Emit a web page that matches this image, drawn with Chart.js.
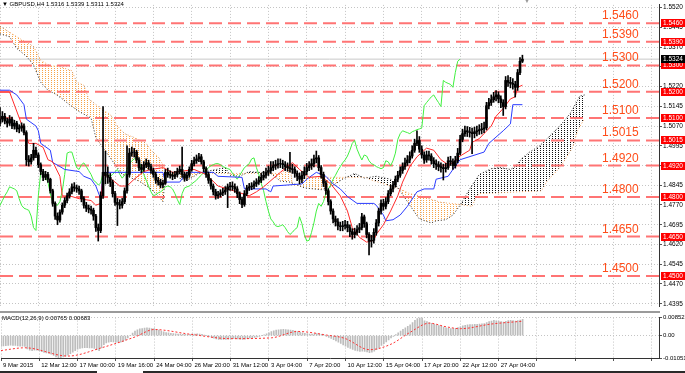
<!DOCTYPE html>
<html lang="en">
<head>
  <meta charset="UTF-8">
  <title>GBPUSD,H4 Ichimoku</title>
  <script src="https://unpkg.com/chart.js@4.4.0/dist/chart.umd.js"></script>
  <style>
    body { margin: 0; background: #fff; font-family: "Liberation Sans", Arial, sans-serif; }
    #wrap { position: relative; width: 685px; height: 373px; overflow: hidden; background: #fff; }
    canvas { position: absolute; left: 0; }
    #main { top: 0; }
    #macd { top: 313px; }
    .sep { position: absolute; left: 0; top: 311px; width: 660px; height: 2px; background: #9a9a9a; }
    .title { position: absolute; left: 2px; top: 1px; font-size: 6px; color: #000; white-space: nowrap; }
    .macdTitle { position: absolute; left: 2px; top: 315px; font-size: 6px; color: #000; white-space: nowrap; }
    .shift { position: absolute; left: 524px; top: -2px; font-size: 6px; color: #999; }
    .bottom { position: absolute; left: 0; top: 371px; width: 685px; height: 2px; background: #2a2a2a; }
    .tab { position: absolute; left: 97px; top: 371px; width: 46px; height: 2px; background: #fff; }
  </style>
</head>
<body>
<div id="wrap">
  <canvas id="main" width="685" height="311"></canvas>
  <div class="sep"></div>
  <canvas id="macd" width="685" height="60"></canvas>
  <div class="title">▼ GBPUSD,H4 1.5316 1.5339 1.5311 1.5324</div>
  <div class="shift">▼</div>
  <div class="macdTitle">MACD(12,26,9) 0.00765 0.00683</div>
  <div class="bottom"></div>
  <div class="tab"></div>
</div>

<script>
  // H4 candles, bar 0 = 9 Mar 2015 00:00
  const firstOpen = 1.5080;
  const closes = [1.5096,1.5107,1.5089,1.5081,1.5096,1.5070,1.5081,1.5059,1.5063,1.5070,
    1.5045,1.4942,1.4934,1.4949,1.4978,1.4960,1.4923,1.4897,1.4875,1.4886,
    1.4868,1.4824,1.4776,1.4728,1.4713,1.4743,1.4769,1.4787,1.4805,1.4820,
    1.4839,1.4835,1.4831,1.4824,1.4794,1.4769,1.4758,1.4754,1.4750,1.4728,
    1.4684,1.4673,1.4805,1.4894,1.4883,1.4875,1.4857,1.4813,1.4780,1.4772,
    1.4769,1.4783,1.4824,1.4886,1.4967,1.4971,1.4971,1.4941,1.4912,1.4905,
    1.4923,1.4930,1.4916,1.4901,1.4886,1.4864,1.4857,1.4846,1.4853,1.4894,
    1.4886,1.4883,1.4879,1.4886,1.4897,1.4905,1.4886,1.4872,1.4883,1.4905,
    1.4927,1.4938,1.4945,1.4953,1.4934,1.4908,1.4886,1.4864,1.4842,1.4820,
    1.4805,1.4809,1.4816,1.4820,1.4827,1.4839,1.4842,1.4839,1.4831,1.4813,
    1.4791,1.4772,1.4813,1.4835,1.4839,1.4842,1.4850,1.4857,1.4864,1.4875,
    1.4883,1.4894,1.4901,1.4912,1.4919,1.4923,1.4927,1.4927,1.4923,1.4916,
    1.4912,1.4908,1.4905,1.4890,1.4879,1.4868,1.4883,1.4897,1.4912,1.4919,
    1.4927,1.4945,1.4949,1.4912,1.4886,1.4853,1.4824,1.4783,1.4747,1.4717,
    1.4706,1.4691,1.4688,1.4691,1.4695,1.4684,1.4669,1.4658,1.4666,1.4677,
    1.4684,1.4725,1.4699,1.4658,1.4633,1.4636,1.4666,1.4702,1.4747,1.4776,
    1.4765,1.4783,1.4813,1.4831,1.4846,1.4868,1.4883,1.4901,1.4916,1.4930,
    1.4941,1.4956,1.4978,1.5004,1.5015,1.4982,1.4960,1.4941,1.4960,1.4956,
    1.4938,1.4927,1.4923,1.4916,1.4912,1.4908,1.4912,1.4938,1.4934,1.4919,
    1.4938,1.4967,1.5019,1.5041,1.5052,1.5048,1.5045,1.5041,1.5048,1.5052,
    1.5056,1.5059,1.5063,1.5147,1.5159,1.5170,1.5181,1.5188,1.5173,1.5159,
    1.5144,1.5243,1.5236,1.5232,1.5228,1.5217,1.5273,1.5316,1.5324];
  const highs = [1.5140,1.5125,1.5118,1.5100,1.5110,1.5104,1.5092,1.5088,1.5075,1.5082,
    1.5078,1.5052,1.4958,1.4962,1.5004,1.4990,1.4968,1.4930,1.4905,1.4898,
    1.4894,1.4872,1.4830,1.4782,1.4740,1.4752,1.4778,1.4798,1.4815,1.4832,
    1.4850,1.4855,1.4846,1.4842,1.4830,1.4802,1.4780,1.4770,1.4766,1.4758,
    1.4735,1.4698,1.4820,1.5144,1.4975,1.4915,1.4890,1.4865,1.4822,1.4795,
    1.4790,1.4795,1.4835,1.4995,1.4985,1.4990,1.4985,1.4978,1.4950,1.4925,
    1.4935,1.4945,1.4940,1.4925,1.4910,1.4895,1.4875,1.4868,1.4865,1.4905,
    1.4910,1.4900,1.4895,1.4898,1.4910,1.4918,1.4990,1.4895,1.4895,1.4915,
    1.4940,1.4952,1.4960,1.4966,1.4962,1.4940,1.4915,1.4895,1.4870,1.4850,
    1.4830,1.4822,1.4828,1.4833,1.4840,1.4850,1.4856,1.4858,1.4850,1.4840,
    1.4820,1.4800,1.4825,1.4845,1.4852,1.4855,1.4862,1.4870,1.4878,1.4890,
    1.4898,1.4910,1.4918,1.4935,1.4935,1.4940,1.4945,1.4945,1.4940,1.4935,
    1.4930,1.4970,1.4925,1.4915,1.4900,1.4892,1.4898,1.4915,1.4928,1.4935,
    1.4945,1.4960,1.4975,1.4958,1.4920,1.4895,1.4862,1.4832,1.4790,1.4755,
    1.4728,1.4718,1.4705,1.4708,1.4712,1.4708,1.4695,1.4680,1.4682,1.4692,
    1.4700,1.4738,1.4732,1.4705,1.4665,1.4655,1.4680,1.4715,1.4758,1.4790,
    1.4792,1.4798,1.4825,1.4845,1.4860,1.4880,1.4898,1.4915,1.4930,1.4948,
    1.4958,1.4972,1.4995,1.5020,1.5052,1.5030,1.4995,1.4972,1.4975,1.4975,
    1.4965,1.4950,1.4942,1.4935,1.4930,1.4925,1.4928,1.4952,1.4955,1.4945,
    1.4955,1.4985,1.5035,1.5058,1.5070,1.5068,1.5065,1.5062,1.5066,1.5070,
    1.5075,1.5080,1.5085,1.5160,1.5175,1.5188,1.5198,1.5205,1.5200,1.5185,
    1.5170,1.5258,1.5262,1.5255,1.5250,1.5240,1.5285,1.5330,1.5339];
  const lows = [1.5070,1.5085,1.5078,1.5066,1.5072,1.5060,1.5058,1.5048,1.5044,1.5050,
    1.5036,1.4920,1.4918,1.4925,1.4940,1.4950,1.4912,1.4885,1.4862,1.4866,
    1.4856,1.4815,1.4765,1.4715,1.4695,1.4705,1.4735,1.4760,1.4778,1.4796,
    1.4812,1.4822,1.4818,1.4810,1.4782,1.4758,1.4745,1.4740,1.4735,1.4712,
    1.4670,1.4633,1.4665,1.4795,1.4850,1.4852,1.4840,1.4800,1.4768,1.4692,
    1.4755,1.4758,1.4775,1.4815,1.4878,1.4955,1.4952,1.4930,1.4900,1.4892,
    1.4898,1.4912,1.4905,1.4890,1.4875,1.4852,1.4845,1.4835,1.4836,1.4848,
    1.4875,1.4872,1.4866,1.4870,1.4878,1.4888,1.4875,1.4860,1.4862,1.4875,
    1.4898,1.4918,1.4928,1.4935,1.4925,1.4896,1.4875,1.4852,1.4830,1.4808,
    1.4792,1.4795,1.4800,1.4805,1.4810,1.4760,1.4825,1.4826,1.4818,1.4798,
    1.4775,1.4760,1.4765,1.4805,1.4825,1.4828,1.4832,1.4840,1.4848,1.4855,
    1.4865,1.4872,1.4882,1.4890,1.4900,1.4905,1.4910,1.4912,1.4908,1.4900,
    1.4898,1.4895,1.4890,1.4875,1.4862,1.4850,1.4855,1.4870,1.4885,1.4900,
    1.4905,1.4915,1.4930,1.4900,1.4872,1.4840,1.4810,1.4770,1.4735,1.4702,
    1.4690,1.4675,1.4672,1.4672,1.4678,1.4668,1.4650,1.4640,1.4645,1.4655,
    1.4665,1.4675,1.4685,1.4645,1.4580,1.4610,1.4625,1.4655,1.4690,1.4735,
    1.4750,1.4755,1.4775,1.4805,1.4820,1.4838,1.4858,1.4875,1.4890,1.4905,
    1.4920,1.4930,1.4948,1.4970,1.4995,1.4970,1.4948,1.4928,1.4932,1.4940,
    1.4925,1.4912,1.4905,1.4900,1.4895,1.4865,1.4895,1.4905,1.4920,1.4905,
    1.4910,1.4930,1.4960,1.5010,1.5030,1.5030,1.5028,1.4965,1.5025,1.5032,
    1.5038,1.5040,1.5045,1.5055,1.5135,1.5148,1.5160,1.5165,1.5158,1.5140,
    1.5110,1.5135,1.5220,1.5215,1.5210,1.5180,1.5205,1.5265,1.5311];

  // Ichimoku lines as [bar, price]
  const tenkan = [[0,1.5199],[4,1.5199],[12,1.5004],[15,1.5004],[18,1.4989],[20,1.4942],[22,1.4934],[25,1.4879],[26,1.4805],[30,1.4802],[33,1.4794],[38,1.4787],[40,1.4769],[42,1.4776],[43,1.4883],[45,1.4879],[50,1.4842],[53,1.4842],[56,1.4868],[60,1.4897],[63,1.4905],[68,1.4912],[72,1.4894],[75,1.4897],[81,1.4905],[86,1.4886],[91,1.4842],[95,1.4831],[104,1.4805],[107,1.4820],[110,1.4839],[117,1.4894],[122,1.4931],[125,1.4905],[129,1.4875],[134,1.4879],[138,1.4850],[142,1.4805],[145,1.4747],[147,1.4684],[150,1.4647],[153,1.4629],[156,1.4636],[157,1.4658],[160,1.4695],[163,1.4747],[166,1.4805],[168,1.4857],[171,1.4916],[174,1.4953],[178,1.4986],[181,1.4978],[184,1.4942],[187,1.4923],[189,1.4931],[192,1.4956],[196,1.4978],[197,1.5008],[200,1.5022],[205,1.5070],[207,1.5107],[210,1.5137],[213,1.5173],[215,1.5181],[216,1.5217],[218,1.5225]];
  const kijun = [[0,1.5206],[4,1.5206],[7,1.5188],[10,1.5151],[11,1.5096],[15,1.5070],[16,1.5052],[17,1.5004],[21,1.4978],[22,1.4931],[25,1.4916],[27,1.4905],[33,1.4897],[35,1.4879],[38,1.4868],[40,1.4842],[42,1.4794],[43,1.4894],[68,1.4894],[69,1.4857],[75,1.4857],[78,1.4894],[89,1.4894],[91,1.4879],[101,1.4875],[102,1.4831],[111,1.4831],[113,1.4820],[114,1.4842],[126,1.4850],[128,1.4868],[132,1.4894],[136,1.4879],[139,1.4850],[142,1.4831],[145,1.4802],[149,1.4776],[156,1.4776],[157,1.4769],[160,1.4732],[161,1.4710],[164,1.4714],[167,1.4732],[170,1.4765],[174,1.4820],[177,1.4831],[181,1.4831],[182,1.4868],[187,1.4879],[189,1.4905],[192,1.4942],[202,1.4971],[204,1.5004],[210,1.5052],[213,1.5078],[214,1.5151],[218,1.5151]];
  const spanA = [[0,1.5420],[4,1.5409],[7,1.5365],[11,1.5335],[14,1.5302],[17,1.5236],[20,1.5206],[23,1.5192],[26,1.5173],[29,1.5151],[33,1.5125],[38,1.5100],[40,1.5026],[46,1.4949],[51,1.4886],[58,1.4861],[63,1.4831],[67,1.4794],[68,1.4783],[69,1.4883],[71,1.4886],[76,1.4868],[79,1.4868],[83,1.4890],[88,1.4901],[94,1.4912],[96,1.4883],[100,1.4879],[104,1.4897],[113,1.4890],[117,1.4861],[121,1.4857],[127,1.4835],[134,1.4828],[138,1.4839],[143,1.4868],[148,1.4890],[152,1.4872],[157,1.4879],[163,1.4868],[167,1.4824],[171,1.4769],[175,1.4717],[180,1.4702],[182,1.4710],[186,1.4714],[189,1.4732],[192,1.4769],[196,1.4831],[200,1.4886],[205,1.4908],[209,1.4912],[213,1.4905],[215,1.4916],[218,1.4949],[221,1.4971],[225,1.4993],[230,1.5037],[234,1.5074],[238,1.5118],[242,1.5184],[244,1.5188]];
  const spanB = [[0,1.5449],[7,1.5409],[14,1.5372],[17,1.5320],[21,1.5298],[24,1.5298],[30,1.5280],[32,1.5236],[35,1.5225],[37,1.5173],[42,1.5137],[46,1.5114],[49,1.5070],[52,1.5041],[56,1.5026],[61,1.5004],[63,1.4978],[66,1.4953],[68,1.4923],[70,1.4890],[118,1.4890],[119,1.4920],[121,1.4920],[122,1.4846],[126,1.4846],[127,1.4875],[153,1.4875],[154,1.4868],[167,1.4831],[171,1.4813],[175,1.4805],[184,1.4780],[192,1.4772],[197,1.4765],[199,1.4805],[200,1.4813],[226,1.4824],[228,1.4857],[234,1.4916],[239,1.4989],[241,1.5052],[244,1.5100]];
  const chikouShift = 26;

  const macdHist = [-0.0050,-0.0048,-0.0047,-0.0046,-0.0045,-0.0046,-0.0046,-0.0048,-0.0049,-0.0049,
    -0.0051,-0.0062,-0.0068,-0.0070,-0.0068,-0.0068,-0.0071,-0.0075,-0.0079,-0.0081,
    -0.0083,-0.0087,-0.0093,-0.0100,-0.0105,-0.0103,-0.0100,-0.0096,-0.0092,-0.0085,
    -0.0078,-0.0070,-0.0064,-0.0060,-0.0058,-0.0057,-0.0057,-0.0058,-0.0058,-0.0060,
    -0.0066,-0.0070,-0.0058,-0.0042,-0.0034,-0.0030,-0.0028,-0.0029,-0.0031,-0.0032,
    -0.0031,-0.0028,-0.0020,-0.0010,0.0000,0.0012,0.0022,0.0028,0.0032,0.0034,
    0.0036,0.0037,0.0036,0.0034,0.0033,0.0030,0.0027,0.0022,0.0018,0.0015,
    0.0013,0.0011,0.0010,0.0009,0.0008,0.0007,0.0006,0.0006,0.0005,0.0006,
    0.0007,0.0008,0.0009,0.0008,0.0006,0.0003,0.0000,-0.0004,-0.0008,-0.0012,
    -0.0015,-0.0017,-0.0018,-0.0018,-0.0017,-0.0016,-0.0015,-0.0014,-0.0014,-0.0015,
    -0.0016,-0.0017,-0.0016,-0.0014,-0.0012,-0.0010,-0.0008,-0.0006,-0.0003,0.0000,
    0.0004,0.0009,0.0014,0.0019,0.0023,0.0026,0.0028,0.0029,0.0030,0.0029,
    0.0028,0.0027,0.0025,0.0022,0.0019,0.0016,0.0013,0.0011,0.0009,0.0008,
    0.0008,0.0009,0.0010,0.0009,0.0006,0.0002,-0.0003,-0.0008,-0.0013,-0.0019,
    -0.0025,-0.0031,-0.0037,-0.0043,-0.0049,-0.0055,-0.0060,-0.0065,-0.0069,-0.0072,
    -0.0074,-0.0073,-0.0074,-0.0077,-0.0080,-0.0078,-0.0073,-0.0066,-0.0058,-0.0046,
    -0.0038,-0.0029,-0.0020,-0.0011,-0.0003,0.0005,0.0014,0.0022,0.0030,0.0037,
    0.0044,0.0051,0.0062,0.0072,0.0080,0.0085,0.0082,0.0070,0.0066,0.0062,
    0.0058,0.0054,0.0051,0.0048,0.0045,0.0041,0.0037,0.0035,0.0034,0.0034,
    0.0035,0.0038,0.0042,0.0046,0.0049,0.0051,0.0052,0.0052,0.0053,0.0054,
    0.0055,0.0056,0.0057,0.0062,0.0066,0.0069,0.0072,0.0070,0.0069,0.0067,
    0.0064,0.0068,0.0071,0.0072,0.0071,0.0069,0.0071,0.0074,0.00765];
  const macdSignal = [[0,-0.0070],[10,-0.0057],[28,-0.0096],[42,-0.0057],[56,-0.0006],[64,0.0029],[79,0.0007],[96,-0.0014],[113,-0.0010],[124,0.0020],[136,0.0003],[144,-0.0014],[152,-0.0062],[154,-0.0066],[163,-0.0040],[171,0.0016],[179,0.0059],[186,0.0042],[192,0.0033],[205,0.0055],[218,0.00683]];

  const levels = [1.5460, 1.5390, 1.5300, 1.5200, 1.5100, 1.5015, 1.4920, 1.4800, 1.4650, 1.4500];
  const lastPrice = 1.5324;
  const priceTicks = [1.5520,1.5445,1.5370,1.5295,1.5220,1.5145,1.5070,1.4995,1.4920,1.4845,1.4770,1.4695,1.4620,1.4545,1.4470,1.4395];
  const macdTicks = [-0.01051, 0, 0.00852];
  const macdTickLabels = ['-0.01051', '0.00', '0.00852'];
  const gridBars = [0,16,32,48,64,80,96,112,128,144,160,176,192,208,224,240,256,272];
  const timeLabels = ['9 Mar 2015','12 Mar 12:00','17 Mar 00:00','19 Mar 16:00','24 Mar 04:00','26 Mar 20:00','31 Mar 12:00','3 Apr 04:00','7 Apr 20:00','10 Apr 12:00','15 Apr 04:00','17 Apr 20:00','22 Apr 12:00','27 Apr 04:00'];

  const xMax = 275;
  const yMin = 1.4386, yMax = 1.5530;

  Chart.defaults.font.family = '"Liberation Sans", Arial, sans-serif';
  Chart.defaults.animation = false;
  Chart.defaults.elements.point.radius = 0;
  Chart.defaults.elements.line.tension = 0;

  function dots(color, w, h) {
    const c = document.createElement('canvas');
    c.width = w; c.height = h;
    const g = c.getContext('2d');
    g.fillStyle = color;
    g.fillRect(0, 0, 1, 1);
    return g.createPattern(c, 'repeat');
  }
  const blackDots = dots('#111', 3, 2);
  const orangeDots = dots('#f7a448', 3, 2);

  const opens = closes.map((c, i) => i === 0 ? firstOpen : closes[i - 1]);

  const levelPlugin = {
    id: 'levels',
    afterDraw(chart) {
      const {ctx, chartArea, scales: {y}} = chart;
      ctx.save();
      ctx.font = '12px "Liberation Sans", Arial, sans-serif';
      ctx.fillStyle = '#ff4d1a';
      ctx.textBaseline = 'alphabetic';
      levels.forEach(v => {
        ctx.fillText(v.toFixed(4), chartArea.right - 57, y.getPixelForValue(v) - 4);
      });
      ctx.font = '6.5px "Liberation Sans", Arial, sans-serif';
      ctx.textBaseline = 'middle';
      const box = (v, bg) => {
        const py = Math.round(y.getPixelForValue(v));
        ctx.fillStyle = bg;
        ctx.fillRect(chartArea.right + 2, py - 4, 26, 8);
        ctx.fillStyle = '#fff';
        ctx.fillText(v.toFixed(4), chartArea.right + 4, py);
      };
      levels.forEach(v => box(v, '#ff0000'));
      box(lastPrice, '#000');
      ctx.restore();
    }
  };

  new Chart(document.getElementById('main'), {
    type: 'line',
    data: {
      datasets: [
        { type: 'bar', data: closes.map((c, i) => ({x: i, y: [lows[i], highs[i]]})),
          backgroundColor: '#000', barThickness: 1, grouped: false, order: 1 },
        { type: 'bar', data: closes.map((c, i) => ({x: i, y: [opens[i], c]})),
          backgroundColor: '#000', borderSkipped: false,
          barThickness: 2, grouped: false, order: 0 },
        { data: tenkan, borderColor: '#ff2a2a', borderWidth: 1, order: 2 },
        { data: kijun, borderColor: '#2b3cff', borderWidth: 1, order: 2 },
        { data: closes.map((c, i) => [i - chikouShift, c]), borderColor: '#40f040', borderWidth: 1, order: 2 },
        { data: spanA, borderColor: '#222', borderDash: [1, 2], borderWidth: 1,
          fill: { target: '+1', above: blackDots, below: orangeDots }, order: 4 },
        { data: spanB, borderColor: '#f4a460', borderDash: [1, 2], borderWidth: 1, order: 4 },
        ...levels.map(v => ({ data: [[0, v], [xMax, v]], borderColor: '#ff7474', borderWidth: 2, borderDash: [13, 6], order: 3 })),
        { data: [[0, lastPrice], [xMax, lastPrice]], borderColor: '#c8c8c8', borderWidth: 1, order: 5 }
      ]
    },
    options: {
      responsive: false,
      devicePixelRatio: 1,
      layout: { padding: 0 },
      plugins: { legend: { display: false }, tooltip: { enabled: false } },
      scales: {
        x: {
          type: 'linear', min: 0, max: xMax, offset: false, bounds: 'data',
          afterBuildTicks: s => { s.ticks = gridBars.map(v => ({value: v})); },
          afterFit: s => { s.height = 0; },
          ticks: { display: false },
          grid: { color: '#c4c4c4', drawTicks: false, offset: false },
          border: { display: false, dash: [1, 2] }
        },
        y: {
          type: 'linear', position: 'right', min: yMin, max: yMax, bounds: 'data',
          afterBuildTicks: s => { s.ticks = priceTicks.map(v => ({value: v})); },
          afterFit: s => { s.width = 26; },
          ticks: { autoSkip: false, padding: 1, color: '#000', font: { size: 6.5 }, callback: v => v.toFixed(4) },
          grid: { color: '#c4c4c4', tickLength: 3, tickColor: '#555' },
          border: { display: true, color: '#333', dash: [1, 2] }
        }
      }
    },
    plugins: [levelPlugin]
  });

  new Chart(document.getElementById('macd'), {
    type: 'line',
    data: {
      datasets: [
        { type: 'bar', data: macdHist.map((v, i) => ({x: i, y: v})), backgroundColor: '#bdbdbd',
          barThickness: 1, grouped: false, order: 1 },
        { data: macdSignal, borderColor: '#ff3030', borderWidth: 1, borderDash: [2, 2],
          cubicInterpolationMode: 'monotone', order: 0 }
      ]
    },
    options: {
      responsive: false,
      devicePixelRatio: 1,
      layout: { padding: { top: 1 } },
      plugins: { legend: { display: false }, tooltip: { enabled: false } },
      scales: {
        x: {
          type: 'linear', min: 0, max: xMax, offset: false, bounds: 'data',
          afterBuildTicks: s => { s.ticks = gridBars.map(v => ({value: v})); },
          afterFit: s => { s.height = 15; },
          ticks: { autoSkip: false, maxRotation: 0, align: 'start', labelOffset: 2, padding: 1,
                   color: '#000', font: { size: 6 }, callback: (v, i) => timeLabels[i] || '' },
          grid: { color: '#c4c4c4', tickLength: 3, tickColor: '#555', offset: false },
          border: { display: true, color: '#333', dash: [1, 2] }
        },
        y: {
          type: 'linear', position: 'right', min: macdTicks[0], max: macdTicks[2], bounds: 'data',
          afterBuildTicks: s => { s.ticks = macdTicks.map(v => ({value: v})); },
          afterFit: s => { s.width = 26; },
          ticks: { autoSkip: false, padding: 1, color: '#000', font: { size: 6 }, callback: (v, i) => macdTickLabels[i] },
          grid: { color: '#c4c4c4', tickLength: 3, tickColor: '#555' },
          border: { display: true, color: '#333', dash: [1, 2] }
        }
      }
    }
  });
</script>
</body>
</html>
